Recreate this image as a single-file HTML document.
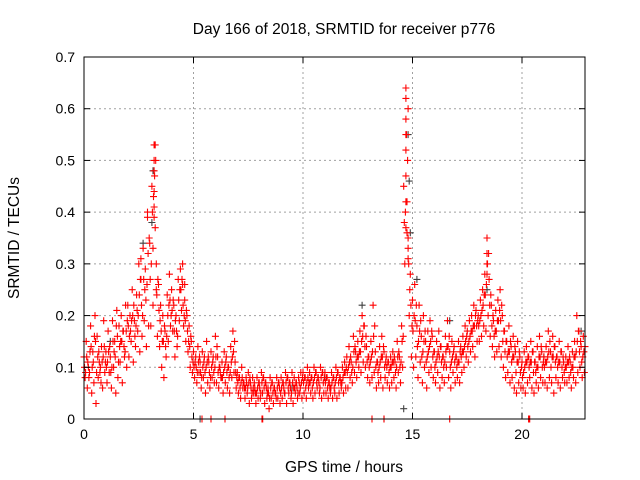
<!DOCTYPE html>
<html><head><meta charset="utf-8"><style>
body{margin:0;background:#fff}
svg{display:block;font-family:"Liberation Sans",sans-serif}
</style></head><body>
<svg id="chart" width="640" height="480" viewBox="0 0 640 480">
<text x="344" y="34" font-size="15.5" text-anchor="middle">Day 166 of 2018, SRMTID for receiver p776</text>
<text x="344" y="472" font-size="15.5" text-anchor="middle">GPS time / hours</text>
<text transform="translate(19,238) rotate(-90)" font-size="15.5" text-anchor="middle">SRMTID / TECUs</text>
<g id="grid"></g>
<g id="marks"></g>
<rect x="84" y="57" width="501" height="362" fill="none" stroke="#000" stroke-width="1"/>
<g id="ticks"></g>
</svg>
<script>
const xTicks=[0,5,10,15,20];
const yTicks=[0,0.1,0.2,0.3,0.4,0.5,0.6,0.7];
const yTickLabels=["0","0.1","0.2","0.3","0.4","0.5","0.6","0.7"];
const tStart=0, tStep=0.1;
const upper=[.12,.15,.10,.18,.13,.20,.16,.11,.14,.19,
.13,.17,.12,.19,.15,.21,.18,.20,.17,.22,
.22,.20,.25,.19,.24,.30,.27,.33,.29,.39,
.34,.45,.53,.30,.26,.22,.20,.17,.24,.28,
.25,.22,.20,.27,.29,.26,.23,.20,.18,.15,
.13,.12,.14,.11,.13,.12,.15,.11,.13,.12,
.16,.12,.10,.11,.13,.12,.10,.14,.17,.11,
.09,.08,.10,.07,.08,.09,.07,.08,.06,.08,
.07,.09,.08,.07,.06,.08,.07,.06,.08,.07,
.08,.07,.09,.08,.07,.09,.08,.07,.08,.09,
.09,.08,.10,.09,.08,.10,.09,.08,.10,.09,
.09,.08,.07,.09,.08,.10,.09,.08,.10,.11,
.12,.14,.11,.16,.13,.15,.17,.20,.18,.14,
.12,.15,.22,.13,.11,.14,.16,.13,.12,.11,
.12,.13,.11,.15,.12,.18,.45,.62,.35,.28,
.23,.26,.18,.22,.16,.20,.15,.17,.19,.16,
.13,.15,.17,.14,.12,.16,.19,.13,.15,.14,
.12,.15,.14,.16,.18,.17,.19,.20,.22,.21,
.20,.23,.25,.28,.35,.27,.22,.19,.21,.23,
.25,.20,.17,.15,.18,.14,.16,.13,.15,.12,
.11,.13,.14,.12,.15,.13,.11,.14,.16,.13,
.12,.14,.17,.13,.16,.14,.12,.15,.13,.11,
.12,.14,.11,.13,.15,.20,.17,.14,.16];
const lower=[.08,.06,.09,.05,.07,.03,.08,.10,.06,.09,
.07,.09,.06,.10,.05,.08,.11,.07,.12,.10,
.12,.15,.11,.14,.17,.13,.16,.19,.14,.18,
.18,.22,.37,.16,.14,.10,.08,.12,.15,.18,
.17,.12,.14,.19,.21,.18,.15,.13,.10,.09,
.08,.07,.09,.06,.08,.05,.07,.06,.08,.07,
.07,.06,.08,.05,.07,.06,.05,.08,.09,.06,
.05,.04,.06,.04,.05,.03,.04,.05,.03,.04,
.04,.05,.03,.04,.02,.04,.03,.05,.04,.03,
.04,.05,.03,.05,.04,.03,.05,.04,.05,.04,
.05,.04,.06,.05,.04,.05,.06,.05,.04,.05,
.05,.04,.05,.04,.05,.04,.05,.06,.05,.06,
.06,.08,.07,.09,.08,.10,.09,.11,.10,.08,
.07,.08,.09,.06,.07,.08,.06,.08,.07,.06,
.07,.08,.06,.09,.07,.10,.30,.42,.20,.12,
.10,.12,.08,.11,.07,.10,.06,.09,.10,.08,
.07,.09,.06,.08,.07,.10,.08,.06,.09,.07,
.08,.07,.09,.10,.12,.11,.13,.14,.12,.15,
.15,.16,.18,.17,.20,.16,.14,.12,.13,.14,
.12,.10,.08,.09,.07,.08,.06,.05,.07,.06,
.06,.05,.07,.08,.06,.05,.07,.06,.08,.07,
.07,.06,.08,.07,.05,.08,.07,.06,.08,.07,
.07,.08,.06,.08,.07,.09,.10,.08,.09];
const midA=[.10,.12,.08,.14,.11,.15,.12,.09,.11,.14,
.10,.13,.09,.15,.12,.16,.14,.15,.14,.17,
.18,.17,.20,.16,.21,.24,.22,.27,.23,.32,
.27,.40,.47,.24,.21,.17,.15,.14,.20,.23,
.21,.17,.17,.23,.25,.22,.19,.17,.14,.12,
.10,.10,.11,.09,.10,.09,.11,.09,.10,.09,
.12,.09,.09,.08,.10,.09,.08,.11,.13,.09,
.07,.06,.08,.06,.07,.07,.06,.06,.05,.06,
.06,.07,.06,.06,.05,.06,.05,.05,.06,.06,
.06,.06,.07,.06,.06,.07,.06,.06,.07,.07,
.07,.06,.08,.07,.06,.08,.07,.07,.08,.07,
.07,.06,.06,.07,.06,.08,.07,.07,.08,.09,
.09,.11,.09,.13,.11,.12,.13,.16,.14,.11,
.10,.12,.16,.10,.09,.11,.12,.10,.10,.09,
.10,.11,.09,.12,.10,.15,.38,.55,.30,.22,
.17,.19,.14,.17,.12,.15,.11,.13,.15,.12,
.10,.12,.12,.11,.10,.13,.14,.10,.12,.11,
.10,.11,.12,.13,.15,.14,.16,.17,.18,.18,
.18,.20,.22,.24,.30,.22,.18,.16,.17,.19,
.19,.15,.13,.12,.13,.11,.12,.09,.11,.09,
.08,.10,.11,.10,.11,.09,.09,.10,.12,.10,
.10,.11,.13,.10,.12,.11,.10,.11,.10,.09,
.10,.11,.09,.10,.12,.15,.13,.11,.13];
const midB=[.09,.11,.13,.10,.16,.09,.13,.07,.12,.11,
.11,.14,.10,.13,.18,.11,.15,.17,.13,.19,
.16,.19,.22,.18,.20,.27,.20,.25,.26,.35,
.30,.43,.50,.27,.19,.15,.18,.16,.22,.20,
.23,.19,.16,.25,.27,.20,.21,.15,.16,.11,
.11,.09,.12,.08,.11,.10,.12,.08,.11,.10,
.14,.10,.08,.09,.11,.10,.09,.12,.15,.08,
.08,.07,.07,.06,.06,.08,.05,.07,.05,.07,
.05,.08,.07,.05,.04,.07,.06,.04,.07,.05,
.07,.05,.08,.07,.05,.06,.07,.05,.06,.08,
.08,.07,.07,.08,.07,.09,.08,.06,.09,.08,
.08,.07,.06,.08,.07,.09,.08,.07,.09,.10,
.10,.12,.10,.14,.12,.13,.15,.18,.16,.12,
.11,.13,.18,.11,.10,.12,.14,.11,.11,.10,
.11,.12,.10,.13,.11,.16,.40,.50,.25,.18,
.20,.22,.15,.19,.13,.17,.12,.14,.17,.13,
.11,.13,.14,.12,.11,.14,.16,.11,.13,.12,
.11,.13,.13,.14,.16,.15,.17,.18,.20,.19,
.19,.21,.24,.26,.32,.24,.20,.17,.19,.21,
.22,.17,.15,.13,.15,.12,.14,.11,.13,.10,
.09,.11,.12,.11,.13,.11,.10,.12,.14,.11,
.11,.12,.15,.12,.14,.12,.11,.13,.12,.10,
.11,.12,.10,.12,.13,.17,.15,.12,.14];
const peakTimes=[3.2,3.2,3.2,3.2,3.2,3.25,3.15,3.3,14.7,14.7,14.7,14.7,14.7,14.7,14.7,14.8,14.8,14.8,14.75,18.4,18.4,18.4,2.6,2.9,4.5,4.6];
const peakValues=[.50,.48,.44,.41,.39,.53,.33,.25,.64,.58,.55,.52,.47,.42,.37,.60,.33,.31,.36,.32,.30,.28,.31,.40,.30,.26];
const zeroTimes=[5.39,5.8,6.44,8.13,8.16,13.15,13.7,16.7,20.3,20.35];
const blackTimes=[2.7,3.15,3.1,14.8,14.85,14.9,15.2,12.7,14.6,16.7,22.7,18.4,5.3,13.7,1.2,9.5,11,21];
const blackValues=[.34,.48,.38,.55,.46,.36,.27,.22,.02,.19,.17,.25,0,0,.15,.06,.08,.12];

const NS="http://www.w3.org/2000/svg";
const X0=84,X1=585,Y0=419,Y1=57,XMAX=(585-84)/21.9,YMAX=0.7;
const xs=t=>X0+(t/XMAX)*(X1-X0);
const ys=v=>Y0-(v/YMAX)*(Y0-Y1);
const grid=document.getElementById('grid'),ticks=document.getElementById('ticks'),marks=document.getElementById('marks');
function line(p,x1,y1,x2,y2,st,dash){const l=document.createElementNS(NS,'line');l.setAttribute('x1',x1);l.setAttribute('y1',y1);l.setAttribute('x2',x2);l.setAttribute('y2',y2);l.setAttribute('stroke',st);if(dash)l.setAttribute('stroke-dasharray',dash);p.appendChild(l);return l;}
xTicks.forEach(t=>{const x=xs(t);
 if(t>0){const g=line(grid,x,Y0,x,Y1,'#a0a0a0','2,3');
 
 }
 line(ticks,x,Y0,x,Y0-6,'#000');line(ticks,x,Y1,x,Y1+6,'#000');
 const tx=document.createElementNS(NS,'text');tx.setAttribute('x',x);tx.setAttribute('y',Y0+20);tx.setAttribute('font-size','14');tx.setAttribute('text-anchor','middle');tx.textContent=t;
 
 
 ticks.appendChild(tx);});
yTicks.forEach((v,i)=>{const y=ys(v);
 if(v>0&&v<YMAX){const g=line(grid,X0,y,X1,y,'#a0a0a0','2,3');
 
 }
 line(ticks,X0,y,X0+6,y,'#000');line(ticks,X1,y,X1-6,y,'#000');
 const tx=document.createElementNS(NS,'text');tx.setAttribute('x',X0-9);tx.setAttribute('y',y+5);tx.setAttribute('font-size','14');tx.setAttribute('text-anchor','end');tx.textContent=yTickLabels[i];
 
 
 ticks.appendChild(tx);});
let d={red:'',black:''};
function plus(c,t,v){const x=xs(t),y=ys(v);d[c]+=`M${(x-3.5).toFixed(1)} ${y.toFixed(1)}h7M${x.toFixed(1)} ${(y-3.5).toFixed(1)}v7`;}
blackTimes.forEach((t,i)=>plus('black',t,blackValues[i]));
upper.forEach((v,i)=>plus('red',tStart+i*tStep,v));
midA.forEach((v,i)=>plus('red',tStart+i*tStep+0.025,v));
lower.forEach((v,i)=>plus('red',tStart+i*tStep+0.05,v));
midB.forEach((v,i)=>plus('red',tStart+i*tStep+0.075,v));
peakTimes.forEach((t,i)=>plus('red',t,peakValues[i]));
zeroTimes.forEach(t=>plus('red',t,0));
['black','red'].forEach(c=>{const p=document.createElementNS(NS,'path');p.setAttribute('d',d[c]);p.setAttribute('stroke',c==='red'?'#ff0000':'#404040');p.setAttribute('stroke-width','1.1');p.setAttribute('fill','none');
 
 
 marks.appendChild(p);});
</script>
</body></html>
